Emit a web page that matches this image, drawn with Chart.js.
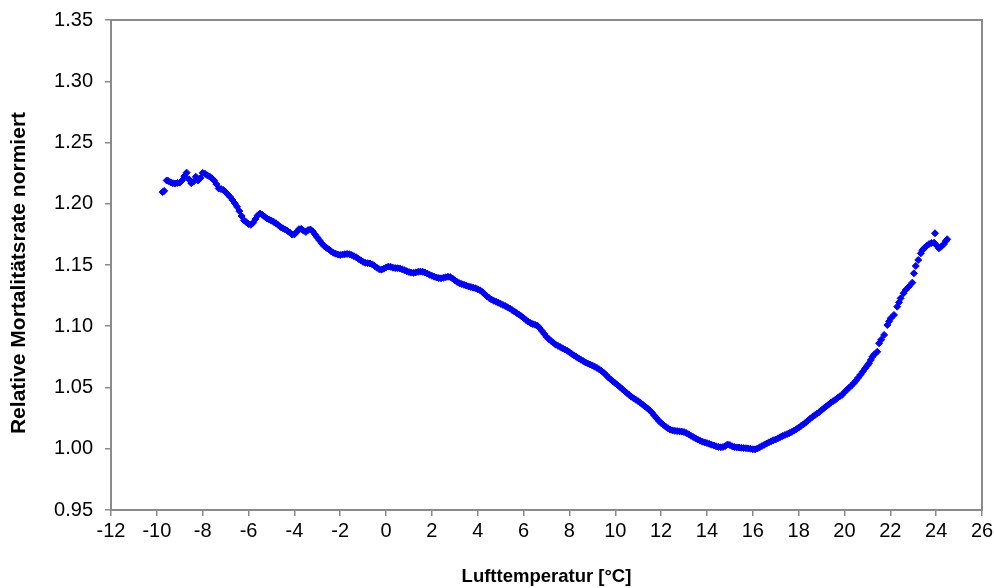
<!DOCTYPE html>
<html>
<head>
<meta charset="utf-8">
<script src="https://cdn.jsdelivr.net/npm/chart.js@4.4.1/dist/chart.umd.min.js"></script>
<style>
  html, body { margin: 0; padding: 0; background: #ffffff; }
  #wrap { width: 994px; height: 588px; position: relative; }
</style>
</head>
<body>
<div id="wrap"><canvas id="c" width="994" height="588"></canvas></div>
<script>
// ---- data ----
const xTitle = 'Lufttemperatur [°C]';
const yTitle = 'Relative Mortalitätsrate normiert';

const xTicksMin = -12, xTicksMax = 26, xTickStep = 2;
const yTicksMin = 0.95, yTicksMax = 1.35, yTickStep = 0.05;

// cold range temperatures (°C) and normalised relative mortality
const coldTemps = [-9.75,-9.68,-9.57,-9.5,-9.4,-9.3,-9.2,-9.1,-9.0,-8.9,-8.8,-8.7,-8.6,-8.5,-8.4,-8.3,-8.2,-8.1,-8.0,
  -7.9,-7.8,-7.7,-7.6,-7.5,-7.4,-7.3,-7.2,-7.1,-7.0,-6.9,-6.8,-6.7,-6.6,-6.5,-6.4,-6.3,-6.2,-6.1,-6.0,
  -5.9,-5.8,-5.7,-5.6,-5.5,-5.4,-5.3,-5.2,-5.1,-5.0,-4.9,-4.8,-4.7,-4.6,-4.5,-4.4,-4.3,-4.2,-4.1,-4.0,
  -3.9,-3.8,-3.7,-3.6,-3.5,-3.4,-3.3,-3.2,-3.1,-3.0,-2.9,-2.8,-2.7,-2.6,-2.5,-2.4,-2.3,-2.2,-2.1,-2.0,
  -1.9,-1.8,-1.7,-1.6,-1.5,-1.4,-1.3,-1.2,-1.1,-1.0,-0.9,-0.8,-0.7,-0.6,-0.5,-0.4,-0.3,-0.2,-0.1,0.0];
const coldRates = [1.2095,1.2105,1.2190,1.2185,1.2175,1.2168,1.2165,1.2170,1.2172,1.2190,1.2225,1.2254,1.2200,1.2168,1.2180,1.2220,1.2190,1.2210,1.2252,
  1.2245,1.2232,1.2222,1.2208,1.2190,1.2160,1.2125,1.2120,1.2112,1.2095,1.2075,1.2055,1.2030,1.2004,1.1975,1.1940,1.1900,1.1865,1.1850,1.1835,
  1.1828,1.1845,1.1875,1.1905,1.1920,1.1910,1.1895,1.1880,1.1872,1.1862,1.1852,1.1840,1.1825,1.1810,1.1800,1.1790,1.1778,1.1765,1.1748,1.1750,
  1.1770,1.1792,1.1795,1.1780,1.1770,1.1785,1.1790,1.1775,1.1750,1.1725,1.1700,1.1675,1.1655,1.1640,1.1628,1.1612,1.1600,1.1592,1.1585,1.1582,
  1.1585,1.1588,1.1590,1.1588,1.1582,1.1572,1.1563,1.1550,1.1538,1.1525,1.1518,1.1515,1.1512,1.1505,1.1492,1.1478,1.1466,1.1462,1.1470,1.1480];

// mild range
const mildTemps = [0.1,0.2,0.3,0.4,0.5,0.6,0.7,0.8,0.9,1.0,1.1,1.2,1.3,1.4,1.5,1.6,1.7,1.8,1.9,2.0,
  2.1,2.2,2.3,2.4,2.5,2.6,2.7,2.8,2.9,3.0,3.1,3.2,3.3,3.4,3.5,3.6,3.7,3.8,3.9,4.0,
  4.1,4.2,4.3,4.4,4.5,4.6,4.7,4.8,4.9,5.0,5.1,5.2,5.3,5.4,5.5,5.6,5.7,5.8,5.9,6.0,
  6.1,6.2,6.3,6.4,6.5,6.6,6.7,6.8,6.9,7.0,7.1,7.2,7.3,7.4,7.5,7.6,7.7,7.8,7.9,8.0,
  8.1,8.2,8.3,8.4,8.5,8.6,8.7,8.8,8.9,9.0,9.1,9.2,9.3,9.4,9.5,9.6,9.7,9.8,9.9,10.0,
  10.1,10.2,10.3,10.4,10.5,10.6,10.7,10.8,10.9,11.0,11.1,11.2,11.3,11.4,11.5,11.6,11.7,11.8,11.9,12.0];
const mildRates = [1.1487,1.1485,1.1478,1.1475,1.1474,1.1472,1.1465,1.1458,1.1450,1.1442,1.1438,1.1436,1.1440,1.1444,1.1446,1.1444,1.1438,1.1430,1.1420,1.1412,
  1.1405,1.1398,1.1393,1.1391,1.1395,1.1400,1.1404,1.1402,1.1390,1.1375,1.1362,1.1352,1.1345,1.1338,1.1332,1.1325,1.1320,1.1315,1.1310,1.1302,
  1.1294,1.1280,1.1262,1.1245,1.1230,1.1218,1.1208,1.1200,1.1192,1.1183,1.1174,1.1165,1.1155,1.1145,1.1132,1.1120,1.1108,1.1095,1.1082,1.1068,
  1.1052,1.1038,1.1026,1.1018,1.1012,1.1005,1.0985,1.0962,1.0938,1.0914,1.0895,1.0880,1.0866,1.0850,1.0840,1.0830,1.0820,1.0810,1.0800,1.0788,
  1.0775,1.0762,1.0750,1.0738,1.0727,1.0716,1.0705,1.0696,1.0688,1.0680,1.0670,1.0660,1.0648,1.0635,1.0620,1.0602,1.0582,1.0566,1.0550,1.0535,
  1.0520,1.0505,1.0488,1.0472,1.0456,1.0440,1.0425,1.0412,1.0400,1.0388,1.0375,1.0360,1.0345,1.0330,1.0314,1.0295,1.0272,1.0250,1.0228,1.0210];

// warm range
const warmTemps = [12.1,12.2,12.3,12.4,12.5,12.6,12.7,12.8,12.9,13.0,13.1,13.2,13.3,13.4,13.5,13.6,13.7,13.8,13.9,14.0,
  14.1,14.2,14.3,14.4,14.5,14.6,14.7,14.8,14.9,15.0,15.1,15.2,15.3,15.4,15.5,15.6,15.7,15.8,15.9,16.0,
  16.1,16.2,16.3,16.4,16.5,16.6,16.7,16.8,16.9,17.0,17.1,17.2,17.3,17.4,17.5,17.6,17.7,17.8,17.9,18.0,
  18.1,18.2,18.3,18.4,18.5,18.6,18.7,18.8,18.9,19.0,19.1,19.2,19.3,19.4,19.5,19.6,19.7,19.8,19.9,20.0,
  20.1,20.2,20.3,20.4,20.5,20.6,20.7,20.8,20.9,21.0];
const warmRates = [1.0195,1.0180,1.0167,1.0156,1.0150,1.0146,1.0144,1.0142,1.0140,1.0136,1.0128,1.0118,1.0106,1.0096,1.0085,1.0075,1.0066,1.0058,1.0052,1.0046,
  1.0040,1.0033,1.0027,1.0020,1.0015,1.0012,1.0014,1.0022,1.0035,1.0030,1.0020,1.0014,1.0011,1.0010,1.0008,1.0006,1.0004,1.0003,1.0000,0.9996,
  0.9995,1.0002,1.0012,1.0022,1.0032,1.0042,1.0052,1.0061,1.0069,1.0076,1.0085,1.0095,1.0104,1.0112,1.0120,1.0128,1.0137,1.0148,1.0160,1.0172,
  1.0185,1.0198,1.0213,1.0229,1.0245,1.0260,1.0273,1.0286,1.0299,1.0315,1.0330,1.0345,1.0360,1.0375,1.0388,1.0400,1.0415,1.0428,1.0440,1.0462,
  1.0480,1.0498,1.0515,1.0535,1.0555,1.0580,1.0605,1.0630,1.0655,1.0680];

// hot range (sparser observations)
const hotTemps = [21.07,21.15,21.22,21.30,21.43,21.51,21.60,21.73,21.87,21.95,22.02,22.16,22.30,22.38,22.45,22.58,22.67,22.81,22.96,
  23.03,23.11,23.22,23.33,23.40,23.47,23.58,23.69,23.80,23.91,23.95,24.02,24.12,24.22,24.34,24.42,24.48];
const hotRates = [1.0698,1.0725,1.0751,1.0770,1.0792,1.0861,1.0890,1.0929,1.1010,1.1040,1.1065,1.1092,1.1160,1.1195,1.1228,1.1270,1.1296,1.1323,1.1356,
  1.1432,1.1492,1.1541,1.1595,1.1620,1.1636,1.1655,1.1671,1.1680,1.1682,1.1759,1.1660,1.1636,1.1650,1.1671,1.1695,1.1710];

// ---- build points ----
const allTemps = [].concat(coldTemps, mildTemps, warmTemps, hotTemps);
const allRates = [].concat(coldRates, mildRates, warmRates, hotRates);
const points = allTemps.map((t, i) => ({ x: t, y: allRates[i] }));

const AXIS_GREY = '#8a8a8a';
const FONT = "'Liberation Sans', Arial, sans-serif";

const frame = {
  id: 'frame',
  beforeDatasetsDraw(chart) {
    const { ctx, chartArea: a } = chart;
    ctx.save();
    ctx.strokeStyle = AXIS_GREY;
    ctx.lineWidth = 2;
    ctx.strokeRect(a.left, a.top, a.right - a.left, a.bottom - a.top);
    ctx.restore();
  }
};

// y-axis title, drawn as rotated canvas text slightly below the plot centre (as in the reference)
const yAxisTitle = {
  id: 'yAxisTitle',
  afterDraw(chart) {
    const { ctx, chartArea: a } = chart;
    ctx.save();
    ctx.translate(19, (a.top + a.bottom) / 2 + 8);
    ctx.rotate(-Math.PI / 2);
    ctx.font = "bold 21px " + FONT;
    ctx.fillStyle = '#000';
    ctx.textAlign = 'center';
    ctx.textBaseline = 'middle';
    ctx.fillText(yTitle, 0, 0);
    ctx.restore();
  }
};

new Chart(document.getElementById('c'), {
  type: 'scatter',
  data: {
    datasets: [{
      data: points,
      pointStyle: 'rectRot',
      pointRadius: 3.5,
      pointBorderWidth: 1,
      pointBackgroundColor: '#0000ff',
      pointBorderColor: '#0000ff',
      showLine: false
    }]
  },
  options: {
    responsive: false,
    animation: false,
    devicePixelRatio: 1,
    layout: { padding: { left: 0, top: 20, right: 12, bottom: 0 } },
    plugins: { legend: { display: false }, tooltip: { enabled: false } },
    scales: {
      x: {
        type: 'linear',
        min: xTicksMin, max: xTicksMax,
        afterFit: s => { s.height = 78; s.paddingLeft = 0; s.paddingRight = 0; },
        ticks: {
          stepSize: xTickStep,
          color: '#000',
          padding: 3,
          maxRotation: 0,
          font: { family: FONT, size: 20 }
        },
        grid: { drawOnChartArea: false, drawTicks: true, tickLength: 6, color: AXIS_GREY, lineWidth: 1.5 },
        border: { display: false },
        title: { display: true, text: xTitle, color: '#000', padding: { top: 0, bottom: 0 },
                 font: { family: FONT, size: 18.5, weight: 'bold' } }
      },
      y: {
        type: 'linear',
        min: yTicksMin, max: yTicksMax,
        afterFit: s => { s.width = 111; s.paddingTop = 0; s.paddingBottom = 0; },
        ticks: {
          stepSize: yTickStep,
          color: '#000',
          padding: 12,
          font: { family: FONT, size: 20 },
          callback: v => Number(v).toFixed(2)
        },
        grid: { drawOnChartArea: false, drawTicks: true, tickLength: 6, color: AXIS_GREY, lineWidth: 1.5 },
        border: { display: false },
        title: { display: false, text: yTitle }
      }
    }
  },
  plugins: [frame, yAxisTitle]
});
</script>
</body>
</html>
